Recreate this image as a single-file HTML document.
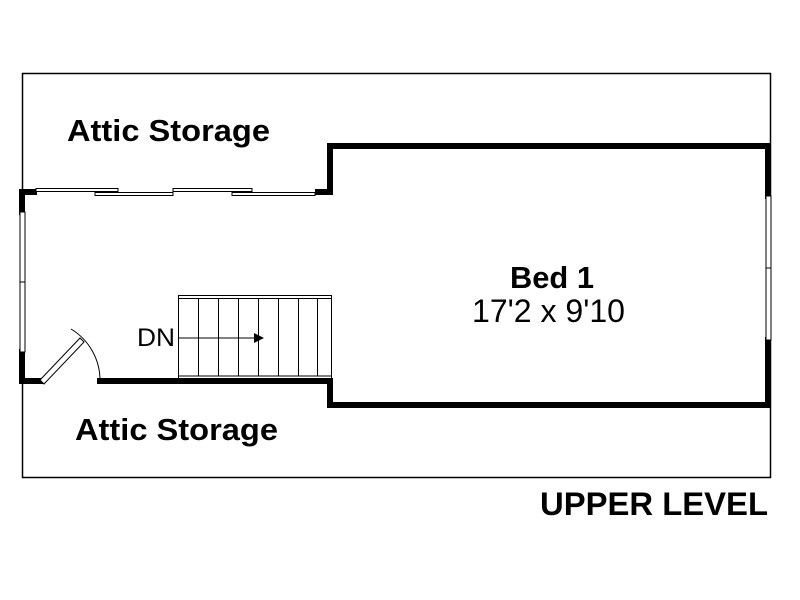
<!DOCTYPE html>
<html><head><style>body{margin:0;background:#fff}svg{display:block}</style></head><body>
<svg width="800" height="600" viewBox="0 0 800 600" xmlns="http://www.w3.org/2000/svg" font-family="Liberation Sans, Arial, sans-serif">
<rect x="22.5" y="73.5" width="748" height="404" fill="none" stroke="#000" stroke-width="1.5"/>
<g stroke="#000" stroke-width="6" fill="none" stroke-linecap="square">
<polyline points="318,192 330,192 330,146 768,146 768,196"/>
<polyline points="768,340 768,405 330,405 330,381 100,381"/>
<polyline points="40,381 22,381 22,352"/>
<polyline points="22,212 22,192 34,192"/>
</g>
<g fill="#fff" stroke="#000" stroke-width="1">
<rect x="20" y="212" width="5" height="140"/>
<rect x="766" y="196" width="5" height="144"/>
<rect x="36" y="188.5" width="82" height="3"/>
<rect x="95" y="192.5" width="78" height="3"/>
<rect x="173" y="188.5" width="79" height="3"/>
<rect x="232" y="192.5" width="83" height="3"/>
</g>
<line x1="20" y1="282" x2="25" y2="282" stroke="#000"/>
<line x1="766" y1="268" x2="771" y2="268" stroke="#000"/>
<path d="M40,380 L80,338 L84,342 L44,384 Z" fill="#fff" stroke="#000" stroke-width="1"/>
<path d="M71,329 A60,60 0 0 1 100,381" fill="none" stroke="#000" stroke-width="1"/>
<g stroke="#000" stroke-width="1" fill="none">
<rect x="178.5" y="295.5" width="153" height="83"/>
<line x1="178" y1="298.5" x2="331" y2="298.5"/>
<line x1="178" y1="376" x2="331" y2="376"/>
<line x1="198.5" y1="298" x2="198.5" y2="376"/>
<line x1="218.5" y1="298" x2="218.5" y2="376"/>
<line x1="238.5" y1="298" x2="238.5" y2="376"/>
<line x1="258.5" y1="298" x2="258.5" y2="376"/>
<line x1="278.5" y1="298" x2="278.5" y2="376"/>
<line x1="298.5" y1="298" x2="298.5" y2="376"/>
<line x1="317.5" y1="298" x2="317.5" y2="376"/>
<line x1="178" y1="338" x2="256" y2="338"/>
</g>
<polygon points="254,333 264,338 254,343" fill="#000"/>
<text x="137" y="346" font-size="25" textLength="38" lengthAdjust="spacingAndGlyphs">DN</text>
<text x="67" y="141" font-size="31" font-weight="bold" textLength="203" lengthAdjust="spacingAndGlyphs">Attic Storage</text>
<text x="75" y="440" font-size="31" font-weight="bold" textLength="203" lengthAdjust="spacingAndGlyphs">Attic Storage</text>
<text x="510" y="288" font-size="31" font-weight="bold" textLength="84" lengthAdjust="spacingAndGlyphs">Bed 1</text>
<text x="472" y="322" font-size="32" textLength="153" lengthAdjust="spacingAndGlyphs">17'2 x 9'10</text>
<text x="540" y="515" font-size="32" font-weight="bold" textLength="228" lengthAdjust="spacingAndGlyphs">UPPER LEVEL</text>
</svg>
</body></html>
